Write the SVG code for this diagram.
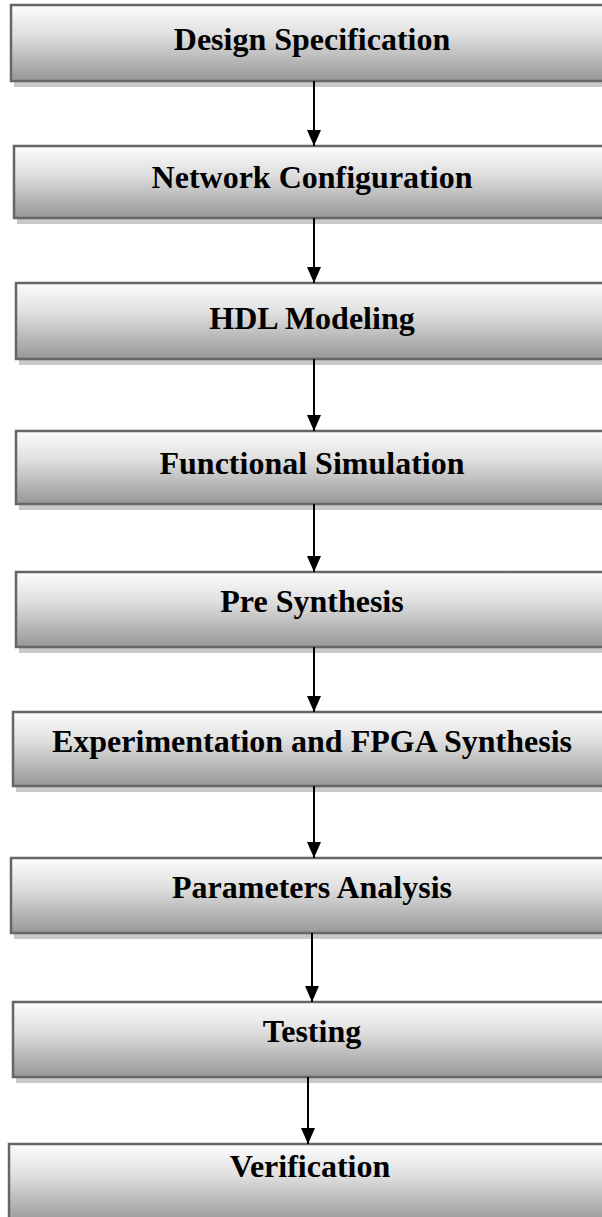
<svg xmlns="http://www.w3.org/2000/svg" width="602" height="1217" viewBox="0 0 602 1217">
<defs>
<linearGradient id="g" x1="0" y1="0" x2="0" y2="1">
<stop offset="0" stop-color="#fdfdfd"/>
<stop offset="0.4" stop-color="#dedede"/>
<stop offset="1" stop-color="#979797"/>
</linearGradient>
<pattern id="chk" width="2" height="2" patternUnits="userSpaceOnUse">
<rect width="2" height="2" fill="#d4d4d4"/>
<rect width="1" height="1" fill="#bdbdbd"/>
<rect x="1" y="1" width="1" height="1" fill="#bdbdbd"/>
</pattern>
<marker id="ah" markerWidth="16" markerHeight="14" refX="16" refY="7" orient="auto" markerUnits="userSpaceOnUse">
<path d="M0,0 L16,7 L0,14 Z" fill="#000"/>
</marker>
</defs>
<style>
.box{fill:url(#g);stroke:#666;stroke-width:2.5}
.sh{fill:url(#chk)}
.t{font-family:"Liberation Serif","Times New Roman",serif;font-weight:bold;font-size:32px;fill:#000;text-anchor:middle}
.c{stroke:#000;stroke-width:2;fill:none;marker-end:url(#ah)}
</style>
<g id="n1"><rect class="sh" x="14" y="81" width="600" height="6"/><rect class="box" x="11" y="5" width="600" height="76"/><text class="t" x="312" y="50">Design Specification</text></g>
<g id="n2"><rect class="sh" x="17" y="218" width="600" height="6"/><rect class="box" x="14" y="146" width="600" height="72"/><text class="t" x="312" y="188">Network Configuration</text></g>
<g id="n3"><rect class="sh" x="19" y="359" width="600" height="6"/><rect class="box" x="16" y="283" width="600" height="76"/><text class="t" x="312" y="329">HDL Modeling</text></g>
<g id="n4"><rect class="sh" x="19" y="504" width="600" height="6"/><rect class="box" x="16" y="431" width="600" height="73"/><text class="t" x="312" y="474">Functional Simulation</text></g>
<g id="n5"><rect class="sh" x="19" y="647" width="600" height="6"/><rect class="box" x="16" y="572" width="600" height="75"/><text class="t" x="312" y="612">Pre Synthesis</text></g>
<g id="n6"><rect class="sh" x="16" y="786" width="600" height="6"/><rect class="box" x="13" y="712" width="600" height="74"/><text class="t" x="312" y="752">Experimentation and FPGA Synthesis</text></g>
<g id="n7"><rect class="sh" x="14" y="933" width="600" height="6"/><rect class="box" x="11" y="858" width="600" height="75"/><text class="t" x="312" y="898">Parameters Analysis</text></g>
<g id="n8"><rect class="sh" x="16" y="1077" width="600" height="6"/><rect class="box" x="13" y="1002" width="600" height="75"/><text class="t" x="312" y="1042">Testing</text></g>
<g id="n9"><rect class="box" x="9" y="1144" width="600" height="80"/><text class="t" x="310" y="1177">Verification</text></g>
<g id="connectors">
<line class="c" x1="314" y1="81" x2="314" y2="146"/>
<line class="c" x1="314" y1="218" x2="314" y2="283"/>
<line class="c" x1="314" y1="359" x2="314" y2="431"/>
<line class="c" x1="314" y1="504" x2="314" y2="572"/>
<line class="c" x1="314" y1="647" x2="314" y2="712"/>
<line class="c" x1="314" y1="786" x2="314" y2="858"/>
<line class="c" x1="312" y1="933" x2="312" y2="1002"/>
<line class="c" x1="308" y1="1077" x2="308" y2="1144"/>
</g>
</svg>
